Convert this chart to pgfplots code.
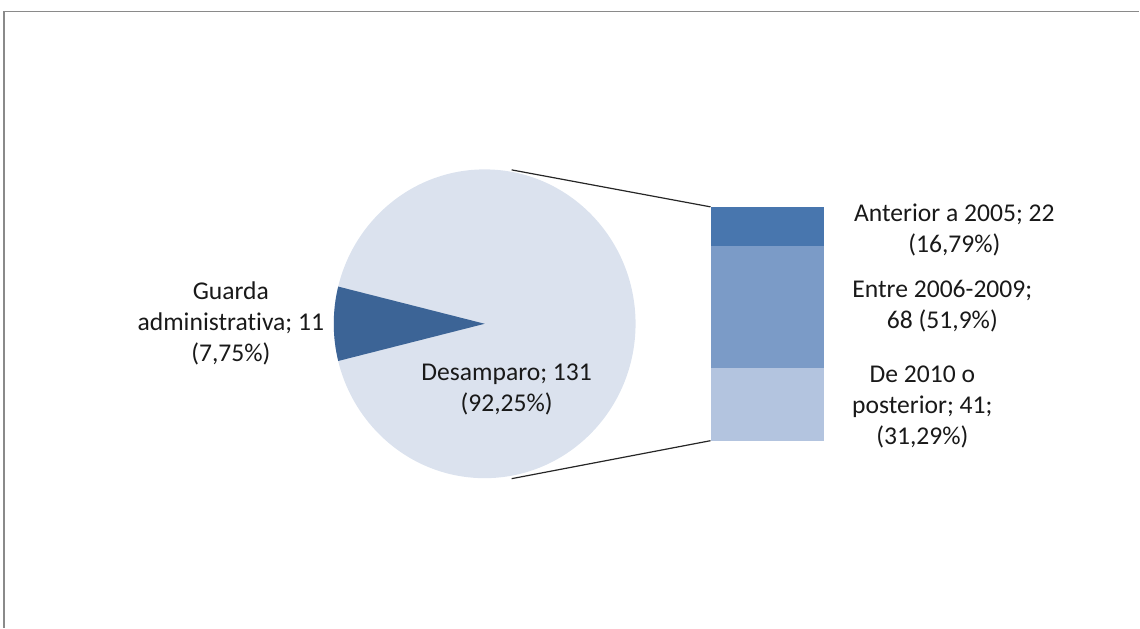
\documentclass[border=0pt]{standalone}
\usepackage{pgfplots}
\pgfplotsset{compat=1.18}
\usepackage{fontspec}
\setmainfont{Carlito}[Ligatures={NoCommon}]
\definecolor{pieLight}{HTML}{DBE2EE}
\definecolor{pieDark}{HTML}{3C6496}
\definecolor{barTop}{HTML}{4876AE}
\definecolor{barMid}{HTML}{7B9BC7}
\definecolor{barLow}{HTML}{B3C4DF}
\definecolor{frameGray}{HTML}{8A8A8A}
\begin{document}
\begin{tikzpicture}
\pgfmathsetmacro{\vG}{11}
\pgfmathsetmacro{\vD}{131}
\pgfmathsetmacro{\halfG}{180*\vG/(\vG+\vD)}
\pgfmathsetmacro{\aS}{180-\halfG}
\pgfmathsetmacro{\aE}{180+\halfG}
\begin{axis}[at={(0,0)}, anchor=south west, width=570pt, height=314pt,
  scale only axis, xmin=0, xmax=1140, ymin=0, ymax=628, hide axis, clip=false]
\path (axis cs:0,0) rectangle (axis cs:1140,628);
\draw[frameGray, line width=0.8pt] (axis cs:4,0) -- (axis cs:4,616.5) -- (axis cs:1140,616.5);
% pie
\fill[pieLight] (axis cs:485,304) ellipse [x radius=75.5pt, y radius=77.25pt];
\fill[pieDark] (axis cs:485,304) -- (axis cs:{485+151*cos(\aS)},{304+154.5*sin(\aS)})
  arc[start angle=\aS, end angle=\aE, x radius=75.5pt, y radius=77.25pt] -- cycle;
% connector lines
\draw[black!85, line width=0.6pt] (axis cs:512,458) -- (axis cs:711,421);
\draw[black!85, line width=0.6pt] (axis cs:512,149) -- (axis cs:711,187);
% labels
\tikzset{lab/.style={align=center, font=\fontsize{12.8}{15.5}\selectfont, text=black!90, inner sep=0pt}}
\node[lab] at (axis cs:231,304) {Guarda\\administrativa; 11\\(7,75\%)};
\node[lab] at (axis cs:507,238) {Desamparo; 131\\(92,25\%)};
\node[lab] at (axis cs:955,398) {Anterior a 2005; 22\\(16,79\%)};
\node[lab] at (axis cs:943,322) {Entre 2006-2009;\\68 (51,9\%)};
\node[lab] at (axis cs:923,221) {De 2010 o\\posterior; 41;\\(31,29\%)};
\end{axis}
\begin{axis}[at={(355.5pt,93.5pt)}, anchor=south west, width=57pt, height=117pt,
  scale only axis, hide axis, xmin=0, xmax=1, ymin=0, ymax=131,
  ybar stacked, bar width=57pt]
\addplot[fill=barLow, draw=none] coordinates {(0.5,41)};
\addplot[fill=barMid, draw=none] coordinates {(0.5,68)};
\addplot[fill=barTop, draw=none] coordinates {(0.5,22)};
\end{axis}
\end{tikzpicture}
\end{document}
